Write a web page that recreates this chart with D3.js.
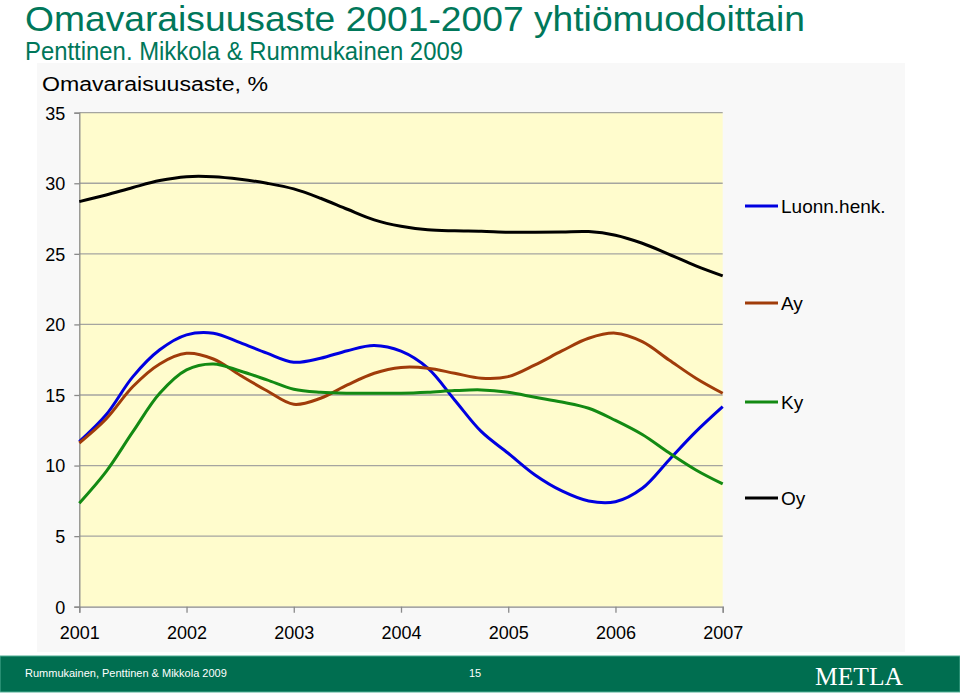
<!DOCTYPE html>
<html>
<head>
<meta charset="utf-8">
<script src="https://cdn.jsdelivr.net/npm/d3@7"></script>
<style>
  html, body { margin: 0; padding: 0; background: #ffffff; }
  svg { display: block; }
</style>
</head>
<body>
<svg id="chart" width="960" height="695"></svg>
<script>
const periods = [2001, 2001.25, 2001.5, 2001.75, 2002, 2002.25, 2002.5, 2002.75,
                 2003, 2003.25, 2003.5, 2003.75, 2004, 2004.25, 2004.5, 2004.75,
                 2005, 2005.25, 2005.5, 2005.75, 2006, 2006.25, 2006.5, 2006.75, 2007];
const seriesNames = ["Luonn.henk.", "Ay", "Ky", "Oy"];
const luonnHenk = [11.7, 13.6, 16.3, 18.2, 19.26, 19.38, 18.71, 17.96,
                   17.32, 17.6, 18.14, 18.5, 18.1, 16.9, 14.65, 12.4,
                   10.87, 9.33, 8.2, 7.49, 7.44, 8.39, 10.4, 12.4, 14.17];
const ay = [11.6, 13.3, 15.6, 17.2, 17.95, 17.55, 16.4, 15.3,
            14.34, 14.77, 15.71, 16.54, 16.95, 16.9, 16.54, 16.19,
            16.3, 17.13, 18.12, 19.02, 19.38, 18.78, 17.48, 16.19, 15.12];
const ky = [7.33, 9.57, 12.4, 15.12, 16.78, 17.2, 16.7, 16.07,
            15.41, 15.19, 15.12, 15.12, 15.12, 15.19, 15.31, 15.36,
            15.19, 14.84, 14.5, 14.06, 13.2, 12.2, 10.9, 9.69, 8.7];
const oy = [28.7, 29.17, 29.7, 30.19, 30.47, 30.47, 30.29, 30.0,
            29.6, 28.94, 28.16, 27.41, 26.95, 26.7, 26.63, 26.6,
            26.53, 26.53, 26.55, 26.58, 26.32, 25.75, 24.97, 24.15, 23.44];
const seriesValues = [luonnHenk, ay, ky, oy];
const seriesColors = ["#0000e0", "#a03c0a", "#138a13", "#000000"];
const yearTicks = [2001, 2002, 2003, 2004, 2005, 2006, 2007];
const valueTicks = [0, 5, 10, 15, 20, 25, 30, 35];
const titleText = "Omavaraisuusaste 2001-2007 yhtiömuodoittain";
const subtitleText = "Penttinen. Mikkola & Rummukainen 2009";
const axisTitle = "Omavaraisuusaste, %";
const footerLeft = "Rummukainen, Penttinen & Mikkola 2009";
const footerPage = "15";
const footerLogo = "METLA";

// ---- layout ----
const svg = d3.select("#chart");
const plot = { left: 79.3, right: 722.7, top: 112.7, bottom: 606.7 };
const x = d3.scaleLinear().domain([2001, 2007]).range([plot.left, plot.right]);
const y = d3.scaleLinear().domain([0, 35]).range([plot.bottom, plot.top]);
const FONT = "'Liberation Sans', Arial, sans-serif";
const GREEN = "#00775a";

// chart picture background
svg.append("rect").attr("x", 37).attr("y", 63).attr("width", 868).attr("height", 589)
  .attr("fill", "#f8f8f8");

// titles
svg.append("text").attr("x", 25).attr("y", 31)
  .attr("font-family", FONT).attr("font-size", 35).attr("fill", GREEN)
  .attr("textLength", 780).attr("lengthAdjust", "spacingAndGlyphs")
  .text(titleText);
svg.append("text").attr("x", 25).attr("y", 60)
  .attr("font-family", FONT).attr("font-size", 25).attr("fill", GREEN)
  .attr("textLength", 438).attr("lengthAdjust", "spacingAndGlyphs")
  .text(subtitleText);
svg.append("text").attr("x", 42).attr("y", 91)
  .attr("font-family", FONT).attr("font-size", 20).attr("fill", "#000")
  .attr("textLength", 226).attr("lengthAdjust", "spacingAndGlyphs")
  .text(axisTitle);

// plot area
svg.append("rect").attr("x", plot.left).attr("y", plot.top)
  .attr("width", plot.right - plot.left).attr("height", plot.bottom - plot.top)
  .attr("fill", "#fffccd");

// gridlines
svg.append("g").selectAll("line").data(valueTicks.filter(d => d > 0)).join("line")
  .attr("x1", plot.left).attr("x2", plot.right)
  .attr("y1", d => y(d)).attr("y2", d => y(d))
  .attr("stroke", "#a5a5a0").attr("stroke-width", 1.3);

// y axis
const yAxis = d3.axisLeft(y).tickValues(valueTicks).tickSize(5).tickPadding(9)
  .tickFormat(d3.format("d"));
const gy = svg.append("g").attr("transform", `translate(${plot.left},0)`).call(yAxis);
gy.select(".domain").attr("stroke", "#8a8a8a").attr("stroke-width", 1.3);
gy.selectAll(".tick line").attr("stroke", "#8a8a8a").attr("stroke-width", 1.3);
gy.selectAll(".tick text").attr("font-family", FONT).attr("font-size", 18)
  .attr("fill", "#000").attr("dy", "0.35em");

// x axis
const xAxis = d3.axisBottom(x).tickValues(yearTicks).tickSize(6).tickPadding(14)
  .tickFormat(d3.format("d"));
const gx = svg.append("g").attr("transform", `translate(0,${plot.bottom})`).call(xAxis);
gx.select(".domain").attr("stroke", "#8a8a8a").attr("stroke-width", 1.3);
gx.selectAll(".tick line").attr("stroke", "#8a8a8a").attr("stroke-width", 1.3);
gx.selectAll(".tick text").attr("font-family", FONT).attr("font-size", 18).attr("fill", "#000");

// lines
const line = d3.line()
  .x((d, i) => x(periods[i]))
  .y(d => y(d))
  .curve(d3.curveCatmullRom.alpha(0.5));
svg.append("g").selectAll("path").data(seriesValues).join("path")
  .attr("d", d => line(d))
  .attr("fill", "none")
  .attr("stroke", (d, i) => seriesColors[i])
  .attr("stroke-width", 3)
  .attr("stroke-linejoin", "round");

// legend
const legendY = [206, 303, 402, 498];
const lg = svg.append("g").selectAll("g").data(seriesNames).join("g")
  .attr("transform", (d, i) => `translate(745,${legendY[i]})`);
lg.append("line").attr("x1", 0).attr("x2", 33).attr("y1", 0).attr("y2", 0)
  .attr("stroke", (d, i) => seriesColors[i]).attr("stroke-width", 3);
lg.append("text").attr("x", 36).attr("y", 0).attr("dy", "0.36em")
  .attr("font-family", FONT).attr("font-size", 19).attr("fill", "#000")
  .text(d => d);

// footer
svg.append("rect").attr("x", 0).attr("y", 656).attr("width", 960).attr("height", 36)
  .attr("fill", "#006e50").attr("stroke", "#4fae94").attr("stroke-width", 1);
svg.append("text").attr("x", 25).attr("y", 677)
  .attr("font-family", FONT).attr("font-size", 11).attr("fill", "#ffffff")
  .text(footerLeft);
svg.append("text").attr("x", 475).attr("y", 677).attr("text-anchor", "middle")
  .attr("font-family", FONT).attr("font-size", 11).attr("fill", "#ffffff")
  .text(footerPage);
svg.append("text").attr("x", 903).attr("y", 685).attr("text-anchor", "end")
  .attr("font-family", "'Liberation Serif', 'Times New Roman', serif")
  .attr("font-size", 25).attr("fill", "#ffffff")
  .attr("textLength", 88).attr("lengthAdjust", "spacingAndGlyphs")
  .text(footerLogo);
</script>
</body>
</html>
